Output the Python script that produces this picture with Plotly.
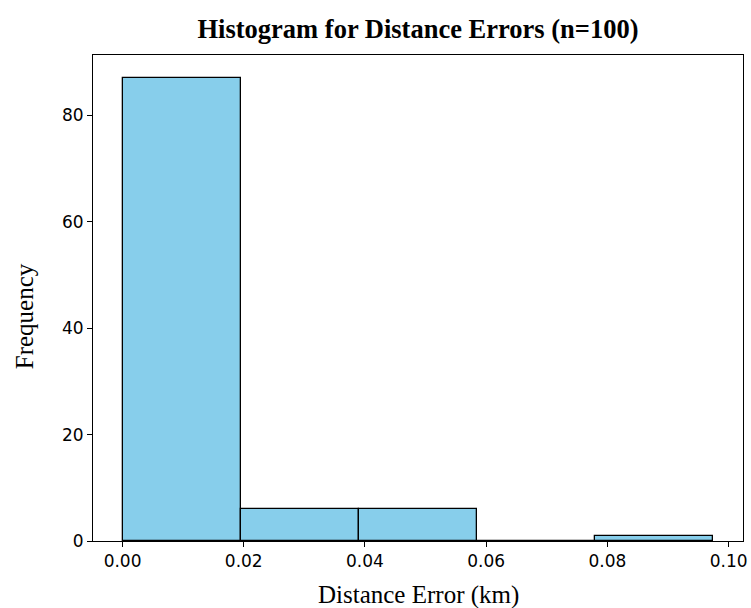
import plotly.graph_objects as go

bin_edges = [0.0, 0.0195, 0.0390, 0.0585, 0.0780, 0.0975]
counts = [87, 6, 6, 0, 1]
x_ticks = [0.00, 0.02, 0.04, 0.06, 0.08, 0.10]
x_tick_labels = ["0.00", "0.02", "0.04", "0.06", "0.08", "0.10"]
y_ticks = [0, 20, 40, 60, 80]

centers = [(a + b) / 2 for a, b in zip(bin_edges[:-1], bin_edges[1:])]
widths = [b - a for a, b in zip(bin_edges[:-1], bin_edges[1:])]

fig = go.Figure(go.Bar(
    x=centers, y=counts, width=widths,
    marker=dict(color="#87CEEB", line=dict(color="black", width=1.3)),
))

span = bin_edges[-1] - bin_edges[0]
serif = "Liberation Serif"
fig.update_layout(
    width=751, height=608,
    margin=dict(l=93, r=8, t=55, b=67, autoexpand=False),
    plot_bgcolor="white", paper_bgcolor="white",
    showlegend=False,
    bargap=0,
    title=dict(text="<b>Histogram for Distance Errors (n=100)</b>",
               x=0.5, xanchor="center", xref="paper", y=0.953, yanchor="middle",
               font=dict(family=serif, size=26.5, color="black")),
    xaxis=dict(range=[bin_edges[0] - 0.05 * span, bin_edges[-1] + 0.05 * span],
               tickvals=x_ticks, ticktext=x_tick_labels,
               ticks="outside", ticklen=5, tickwidth=1, tickcolor="black",
               showline=True, linecolor="black", linewidth=1, mirror=True,
               showgrid=False, zeroline=False, automargin=False,
               tickfont=dict(family="DejaVu Sans", size=17, color="black")),
    yaxis=dict(range=[0, max(counts) * 1.05],
               tickvals=y_ticks,
               ticks="outside", ticklen=5, tickwidth=1, tickcolor="black",
               showline=True, linecolor="black", linewidth=1, mirror=True,
               showgrid=False, zeroline=False, automargin=False,
               tickfont=dict(family="DejaVu Sans", size=17, color="black")),
    annotations=[
        dict(text="Distance Error (km)", xref="paper", yref="paper",
             x=0.5, y=-0.111, xanchor="center", yanchor="middle", showarrow=False,
             font=dict(family=serif, size=25, color="black")),
        dict(text="Frequency", xref="paper", yref="paper", textangle=-90,
             x=-0.105, y=0.462, xanchor="center", yanchor="middle", showarrow=False,
             font=dict(family=serif, size=25, color="black")),
    ],
)

fig.write_html("out.html", config={"displayModeBar": False},
               post_script="document.body.style.margin='0';document.body.style.overflow='hidden';")
